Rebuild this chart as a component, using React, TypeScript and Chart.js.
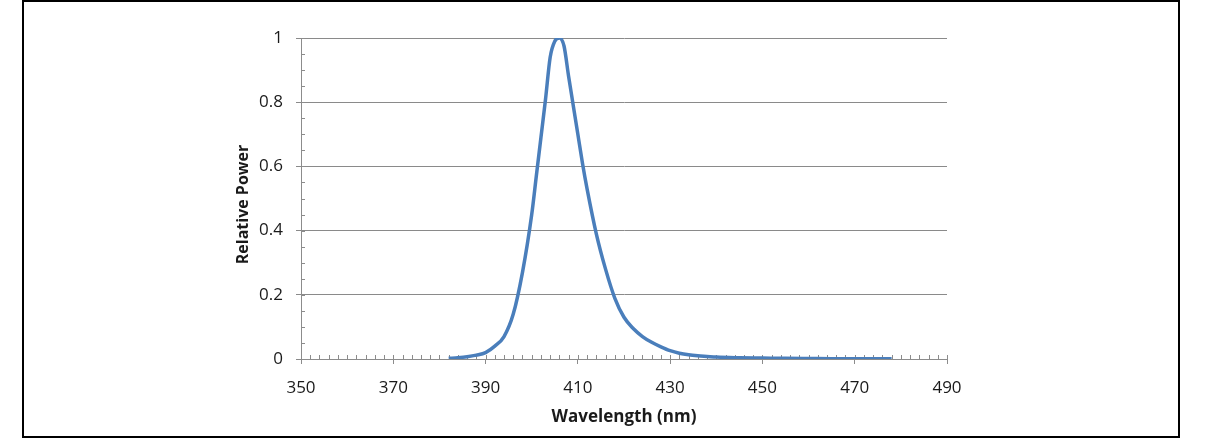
import React, { useEffect, useRef } from "react";
import { Chart, registerables } from "chart.js";

Chart.register(...registerables);

// Wavelength (nm)
const wavelengths = [
  382, 384, 386, 388, 390, 392, 394, 396, 398, 400, 401, 402, 403, 404, 405, 406,
  407, 408, 409, 410, 411, 412, 414, 416, 418, 420, 422, 424, 426, 428, 430, 432,
  434, 436, 438, 440, 445, 450, 455, 460, 465, 470, 475, 478,
];
// Relative power
const relativePower = [
  0.002, 0.004, 0.007, 0.012, 0.02, 0.04, 0.07, 0.14, 0.27, 0.45, 0.57, 0.69, 0.81, 0.94, 0.99, 1.0,
  0.975, 0.88, 0.79, 0.7, 0.61, 0.53, 0.39, 0.28, 0.19, 0.13, 0.095, 0.07, 0.052, 0.038, 0.026, 0.018,
  0.013, 0.01, 0.008, 0.006, 0.004, 0.003, 0.002, 0.0015, 0.001, 0.001, 0.001, 0.001,
];

const xTickValues = [350, 370, 390, 410, 430, 450, 470, 490];
const yTickValues = [0, 0.2, 0.4, 0.6, 0.8, 1];
const X_MINOR_STEP = 2;
const Y_MINOR_STEP = 0.05;

const xTitle = "Wavelength (nm)";
const yTitle = "Relative Power";

const AXIS_COLOR = "#8c8c8c";
const GRID_COLOR = "#8a8a8a";
const LINE_COLOR = "#4a7ebb";
const TEXT_COLOR = "#1a1a1a";
const FONT = "'Open Sans', 'Noto Sans', sans-serif";

const minorTicks = {
  id: "minorTicks",
  beforeDatasetsDraw(chart: any) {
    const { ctx, chartArea, scales } = chart;
    const x = scales.x;
    const y = scales.y;
    ctx.save();
    ctx.strokeStyle = AXIS_COLOR;
    ctx.lineWidth = 1;
    ctx.beginPath();
    for (let i = 0; ; i++) {
      const v = x.min + i * X_MINOR_STEP;
      if (v > x.max + 1e-9) break;
      const px = Math.round(x.getPixelForValue(v)) + 0.5;
      ctx.moveTo(px, chartArea.bottom);
      ctx.lineTo(px, chartArea.bottom - 4);
    }
    for (let i = 0; ; i++) {
      const v = y.min + i * Y_MINOR_STEP;
      if (v > y.max + 1e-9) break;
      const py = Math.round(y.getPixelForValue(v)) + 0.5;
      ctx.moveTo(chartArea.left, py);
      ctx.lineTo(chartArea.left + 4, py);
    }
    ctx.stroke();
    ctx.restore();
  },
};

// Y-axis title drawn slightly below the plot's vertical centre, as in the reference
const yTitlePlugin = {
  id: "yTitle",
  afterDraw(chart: any) {
    const { ctx, chartArea } = chart;
    ctx.save();
    ctx.translate(chartArea.left - 58, (chartArea.top + chartArea.bottom) / 2 + 6);
    ctx.rotate(-Math.PI / 2);
    ctx.fillStyle = TEXT_COLOR;
    ctx.font = `bold 16px ${FONT}`;
    ctx.textAlign = "center";
    ctx.textBaseline = "middle";
    ctx.fillText(yTitle, 0, 0);
    ctx.restore();
  },
};

export default function App() {
  const canvasRef = useRef<HTMLCanvasElement | null>(null);

  useEffect(() => {
    if (!canvasRef.current) return;
    const points = wavelengths.map((w, i) => ({ x: w, y: relativePower[i] }));
    const chart = new Chart(canvasRef.current, {
      type: "line",
      data: {
        datasets: [
          {
            data: points,
            borderColor: LINE_COLOR,
            borderWidth: 3.5,
            pointRadius: 0,
            fill: false,
            cubicInterpolationMode: "monotone",
          },
        ],
      },
      options: {
        animation: false,
        responsive: true,
        maintainAspectRatio: false,
        layout: { padding: { left: 230, right: 269, top: 38, bottom: 11 } },
        plugins: { legend: { display: false }, tooltip: { enabled: false } },
        scales: {
          x: {
            type: "linear",
            min: 350,
            max: 490,
            afterBuildTicks: (s: any) => {
              s.ticks = xTickValues.map((v) => ({ value: v }));
            },
            afterFit: (s: any) => {
              s.height = 68;
            },
            grid: {
              drawOnChartArea: false,
              drawTicks: true,
              tickLength: 5,
              color: AXIS_COLOR,
            },
            border: { display: true, color: AXIS_COLOR },
            ticks: {
              autoSkip: false,
              maxRotation: 0,
              padding: 14,
              color: TEXT_COLOR,
              font: { family: FONT, size: 17 },
            },
            title: {
              display: true,
              text: xTitle,
              color: TEXT_COLOR,
              font: { family: FONT, size: 17, weight: "bold" },
              padding: { top: 0, bottom: 0 },
            },
          },
          y: {
            type: "linear",
            min: 0,
            max: 1,
            afterBuildTicks: (s: any) => {
              s.ticks = yTickValues.map((v) => ({ value: v }));
            },
            afterFit: (s: any) => {
              s.width = 71;
            },
            grid: {
              color: GRID_COLOR,
              drawTicks: true,
              tickLength: 5,
            },
            border: { display: true, color: AXIS_COLOR },
            ticks: {
              padding: 13,
              color: TEXT_COLOR,
              font: { family: FONT, size: 17 },
              callback: (v: any) => String(Number(v)),
            },
            title: { display: false },
          },
        },
      },
      plugins: [minorTicks, yTitlePlugin],
    });
    return () => chart.destroy();
  }, []);

  return (
    <div style={{ position: "fixed", left: 0, top: 0, width: 1216, height: 438, background: "#fff" }}>
      <canvas ref={canvasRef} />
      <div
        style={{
          position: "absolute",
          left: 22,
          top: 0,
          width: 1158,
          height: 438,
          border: "2px solid #000",
          boxSizing: "border-box",
          pointerEvents: "none",
        }}
      />
    </div>
  );
}
